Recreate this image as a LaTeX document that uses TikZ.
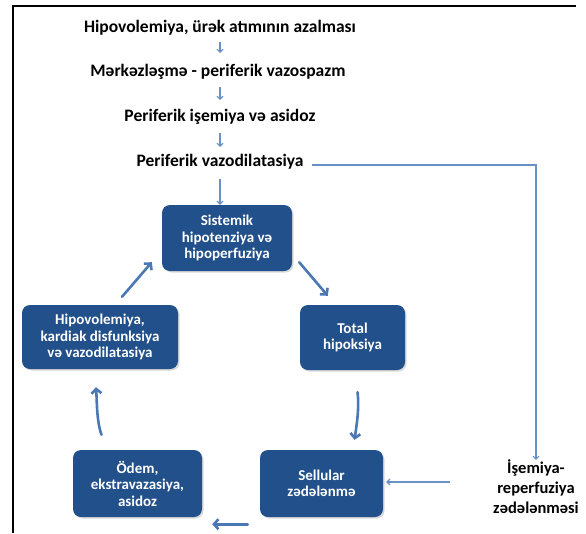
\documentclass[tikz,border=0pt]{standalone}
\usepackage{fontspec}
\setmainfont{Carlito}
\usetikzlibrary{arrows.meta,shadows,calc}
\definecolor{boxblue}{RGB}{33,80,138}
\definecolor{arrblue}{RGB}{74,120,180}
\definecolor{thinblue}{RGB}{105,145,200}
\begin{document}
\begin{tikzpicture}[x=1pt,y=-1pt,
  cyc/.style={rectangle, rounded corners=8pt, fill=boxblue, text=white, inner sep=0pt,
    font=\bfseries\fontsize{15}{16.5}\selectfont, align=center,
    drop shadow={opacity=0.3, shadow xshift=1.5pt, shadow yshift=-1.5pt}},
  toptext/.style={inner sep=0pt, anchor=base, font=\bfseries\fontsize{17.5}{20}\selectfont, text=black},
  sidetext/.style={inner sep=0pt, font=\bfseries\fontsize{16.5}{20}\selectfont, align=center},
  thinarr/.style={draw=thinblue, line width=1.1pt, -{Straight Barb[length=3pt,width=6pt]}},
  thickarr/.style={draw=arrblue, line width=2.6pt, line cap=round, -{Straight Barb[length=4.5pt,width=10pt]}},
  frameline/.style={draw=black, line width=2.4pt}
]
\useasboundingbox (0,0) rectangle (586,533);
\draw[frameline] (13,533) -- (13,6) -- (576,6);

% top chain
\node[toptext] (t1) at (220,32) {Hipovolemiya, ürək atımının azalması};
\node[toptext] (t2) at (218,76) {Mərkəzləşmə - periferik vazospazm};
\node[toptext] (t3) at (220,121) {Periferik işemiya və asidoz};
\node[toptext] (t4) at (220,166) {Periferik vazodilatasiya};

% cycle boxes
\node[cyc, minimum width=130pt, minimum height=66pt] (sis) at (227,238) {Sistemik\\hipotenziya və\\hipoperfuziya};
\node[cyc, minimum width=156pt, minimum height=64pt] (hip) at (100,337) {Hipovolemiya,\\kardiak disfunksiya\\və vazodilatasiya};
\node[cyc, minimum width=105pt, minimum height=65pt] (tot) at (352.5,337.5) {Total\\hipoksiya};
\node[cyc, minimum width=129pt, minimum height=67pt] (ode) at (137.5,483.5) {Ödem,\\ekstravazasiya,\\asidoz};
\node[cyc, minimum width=123pt, minimum height=67pt] (sel) at (321.5,483.5) {Sellular\\zədələnmə};

\node[sidetext] (ise) at (536,487) {İşemiya-\\reperfuziya\\zədələnməsi};

% thin arrows
\draw[thinarr] ($(t1.base -| 220,0)+(0,10)$) -- ($(t2.base -| 220,0)+(0,-23)$);
\draw[thinarr] ($(t2.base -| 220,0)+(0,11)$) -- ($(t3.base -| 220,0)+(0,-21)$);
\draw[thinarr] ($(t3.base -| 220,0)+(0,12)$) -- ($(t4.base -| 220,0)+(0,-19)$);
\draw[thinarr] ($(t4.base -| 220,0)+(0,13)$) -- (220,0 |- sis.north);
\coordinate (tur) at ($(t4.base)+(0,-1)$);
\draw[thinarr, shorten <=8pt] (t4.east |- tur) -| (ise.north);
\coordinate (isein) at (450,482);
\draw[thinarr, shorten >=3pt] (isein) -- (sel.east |- isein);

% thick cycle arrows
\draw[thickarr] ($(sis.south east)+(7,-9)$) -- ($(tot.north west)+(28,-9)$);
\draw[thickarr] ($(tot.south)+(5,22)$) .. controls +(2,16) and +(2,-14) .. ($(sel.north)+(33,-10)$);
\draw[thickarr] ($(sel.south west)+(-12,7)$) -- ($(ode.south east)+(10,7)$);
\draw[thickarr] ($(ode.north)+(-36,-15)$) .. controls +(-5,-14) and +(1,14) .. ($(hip.south)+(-4,18)$);
\draw[thickarr] ($(hip.north)+(22,-8)$) -- ($(sis.south west)+(-10,-9)$);
\end{tikzpicture}
\end{document}
